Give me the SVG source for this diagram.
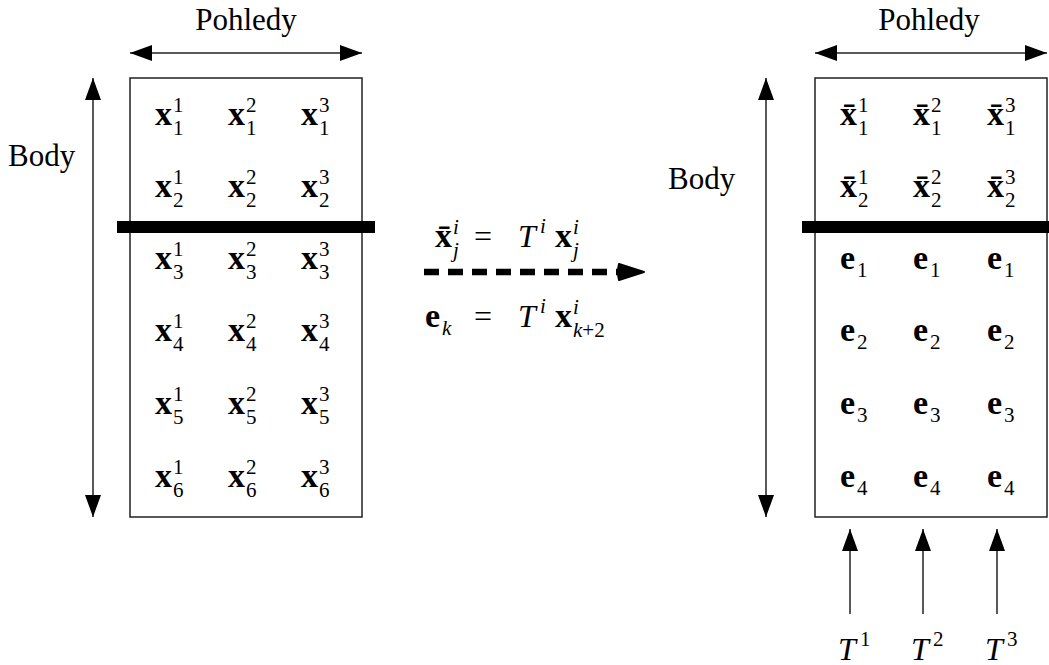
<svg xmlns="http://www.w3.org/2000/svg" width="1049" height="665" viewBox="0 0 1049 665">
<defs>
<marker id="ah" viewBox="0 0 22 16" refX="22" refY="8" markerWidth="22" markerHeight="16" markerUnits="userSpaceOnUse" orient="auto-start-reverse">
<path d="M0,0 L22,8 L0,16 Z" fill="#000"/>
</marker>
<marker id="dh" viewBox="0 0 28 18" refX="2" refY="9" markerWidth="28" markerHeight="18" markerUnits="userSpaceOnUse" orient="auto">
<path d="M2,1 Q0,9 2,17 L27,9 Z" fill="#000" stroke="#000" stroke-width="2" stroke-linejoin="round"/>
</marker>
</defs>

<g id="connectors" stroke="#222" stroke-width="1.5" fill="none">
<line x1="130" y1="53" x2="362" y2="53" marker-start="url(#ah)" marker-end="url(#ah)"/>
<line x1="93" y1="78" x2="93" y2="517" marker-start="url(#ah)" marker-end="url(#ah)"/>
<line x1="815" y1="53" x2="1047" y2="53" marker-start="url(#ah)" marker-end="url(#ah)"/>
<line x1="766" y1="78" x2="766" y2="517" marker-start="url(#ah)" marker-end="url(#ah)"/>
<line x1="424" y1="272" x2="619" y2="272" stroke="#000" stroke-width="6.5" stroke-dasharray="15 9" marker-end="url(#dh)"/>
<line x1="850" y1="614" x2="850" y2="529" marker-end="url(#ah)"/>
<line x1="923" y1="614" x2="923" y2="529" marker-end="url(#ah)"/>
<line x1="997" y1="614" x2="997" y2="529" marker-end="url(#ah)"/>
</g>

<g id="labels" font-family="Liberation Serif" font-size="31">
<text font-family="Liberation Serif" font-size="31" x="246" y="30" text-anchor="middle">Pohledy</text>
<text font-family="Liberation Serif" font-size="31" x="929" y="30" text-anchor="middle">Pohledy</text>
<text font-family="Liberation Serif" font-size="31" x="8" y="166">Body</text>
<text font-family="Liberation Serif" font-size="31" x="668" y="189">Body</text>
</g>

<g id="left-matrix" font-family="Liberation Serif">
<rect x="130" y="78" width="232" height="439" fill="none" stroke="#222" stroke-width="1.5"/>
<rect x="117" y="221" width="258" height="12" fill="#000"/>
<g id="lrow1">
<text font-family="Liberation Serif" font-size="34" font-weight="bold" x="155" y="125">x</text><text font-family="Liberation Serif" font-size="21" x="173" y="112">1</text><text font-family="Liberation Serif" font-size="21" x="173" y="135">1</text>
<text font-family="Liberation Serif" font-size="34" font-weight="bold" x="228" y="125">x</text><text font-family="Liberation Serif" font-size="21" x="246" y="112">2</text><text font-family="Liberation Serif" font-size="21" x="246" y="135">1</text>
<text font-family="Liberation Serif" font-size="34" font-weight="bold" x="301" y="125">x</text><text font-family="Liberation Serif" font-size="21" x="319" y="112">3</text><text font-family="Liberation Serif" font-size="21" x="319" y="135">1</text>
</g>
<g id="lrow2">
<text font-family="Liberation Serif" font-size="34" font-weight="bold" x="155" y="197">x</text><text font-family="Liberation Serif" font-size="21" x="173" y="184">1</text><text font-family="Liberation Serif" font-size="21" x="173" y="207">2</text>
<text font-family="Liberation Serif" font-size="34" font-weight="bold" x="228" y="197">x</text><text font-family="Liberation Serif" font-size="21" x="246" y="184">2</text><text font-family="Liberation Serif" font-size="21" x="246" y="207">2</text>
<text font-family="Liberation Serif" font-size="34" font-weight="bold" x="301" y="197">x</text><text font-family="Liberation Serif" font-size="21" x="319" y="184">3</text><text font-family="Liberation Serif" font-size="21" x="319" y="207">2</text>
</g>
<g id="lrow3">
<text font-family="Liberation Serif" font-size="34" font-weight="bold" x="155" y="269">x</text><text font-family="Liberation Serif" font-size="21" x="173" y="256">1</text><text font-family="Liberation Serif" font-size="21" x="173" y="279">3</text>
<text font-family="Liberation Serif" font-size="34" font-weight="bold" x="228" y="269">x</text><text font-family="Liberation Serif" font-size="21" x="246" y="256">2</text><text font-family="Liberation Serif" font-size="21" x="246" y="279">3</text>
<text font-family="Liberation Serif" font-size="34" font-weight="bold" x="301" y="269">x</text><text font-family="Liberation Serif" font-size="21" x="319" y="256">3</text><text font-family="Liberation Serif" font-size="21" x="319" y="279">3</text>
</g>
<g id="lrow4">
<text font-family="Liberation Serif" font-size="34" font-weight="bold" x="155" y="341">x</text><text font-family="Liberation Serif" font-size="21" x="173" y="328">1</text><text font-family="Liberation Serif" font-size="21" x="173" y="351">4</text>
<text font-family="Liberation Serif" font-size="34" font-weight="bold" x="228" y="341">x</text><text font-family="Liberation Serif" font-size="21" x="246" y="328">2</text><text font-family="Liberation Serif" font-size="21" x="246" y="351">4</text>
<text font-family="Liberation Serif" font-size="34" font-weight="bold" x="301" y="341">x</text><text font-family="Liberation Serif" font-size="21" x="319" y="328">3</text><text font-family="Liberation Serif" font-size="21" x="319" y="351">4</text>
</g>
<g id="lrow5">
<text font-family="Liberation Serif" font-size="34" font-weight="bold" x="155" y="414">x</text><text font-family="Liberation Serif" font-size="21" x="173" y="401">1</text><text font-family="Liberation Serif" font-size="21" x="173" y="424">5</text>
<text font-family="Liberation Serif" font-size="34" font-weight="bold" x="228" y="414">x</text><text font-family="Liberation Serif" font-size="21" x="246" y="401">2</text><text font-family="Liberation Serif" font-size="21" x="246" y="424">5</text>
<text font-family="Liberation Serif" font-size="34" font-weight="bold" x="301" y="414">x</text><text font-family="Liberation Serif" font-size="21" x="319" y="401">3</text><text font-family="Liberation Serif" font-size="21" x="319" y="424">5</text>
</g>
<g id="lrow6">
<text font-family="Liberation Serif" font-size="34" font-weight="bold" x="155" y="487">x</text><text font-family="Liberation Serif" font-size="21" x="173" y="474">1</text><text font-family="Liberation Serif" font-size="21" x="173" y="497">6</text>
<text font-family="Liberation Serif" font-size="34" font-weight="bold" x="228" y="487">x</text><text font-family="Liberation Serif" font-size="21" x="246" y="474">2</text><text font-family="Liberation Serif" font-size="21" x="246" y="497">6</text>
<text font-family="Liberation Serif" font-size="34" font-weight="bold" x="301" y="487">x</text><text font-family="Liberation Serif" font-size="21" x="319" y="474">3</text><text font-family="Liberation Serif" font-size="21" x="319" y="497">6</text>
</g>
</g>

<g id="transform" font-family="Liberation Serif">
<text font-family="Liberation Serif" font-size="34" font-weight="bold" x="435" y="247">x̄</text><text font-family="Liberation Serif" font-size="21" font-style="italic" x="453" y="234">i</text><text font-family="Liberation Serif" font-size="21" font-style="italic" x="453" y="257">j</text>
<text font-family="Liberation Serif" font-size="32" x="474" y="247">=</text>
<text font-family="Liberation Serif" font-size="32" font-style="italic" x="518" y="247">T</text><text font-family="Liberation Serif" font-size="21" font-style="italic" x="540" y="233">i</text>
<text font-family="Liberation Serif" font-size="34" font-weight="bold" x="555" y="247">x</text><text font-family="Liberation Serif" font-size="21" font-style="italic" x="573" y="234">i</text><text font-family="Liberation Serif" font-size="21" font-style="italic" x="573" y="257">j</text>
<text font-family="Liberation Serif" font-size="34" font-weight="bold" x="425" y="327">e</text><text font-family="Liberation Serif" font-size="21" font-style="italic" x="442" y="335">k</text>
<text font-family="Liberation Serif" font-size="32" x="474" y="327">=</text>
<text font-family="Liberation Serif" font-size="32" font-style="italic" x="518" y="327">T</text><text font-family="Liberation Serif" font-size="21" font-style="italic" x="540" y="313">i</text>
<text font-family="Liberation Serif" font-size="34" font-weight="bold" x="555" y="327">x</text><text font-family="Liberation Serif" font-size="21" font-style="italic" x="573" y="314">i</text><text font-family="Liberation Serif" font-size="21" x="573" y="337"><tspan font-style="italic">k</tspan>+2</text>
</g>

<g id="right-matrix" font-family="Liberation Serif">
<rect x="815" y="78" width="232" height="439" fill="none" stroke="#222" stroke-width="1.5"/>
<rect x="802" y="221" width="247" height="12" fill="#000"/>
<g id="rrow1">
<text font-family="Liberation Serif" font-size="34" font-weight="bold" x="840" y="125">x̄</text><text font-family="Liberation Serif" font-size="21" x="858" y="112">1</text><text font-family="Liberation Serif" font-size="21" x="858" y="135">1</text>
<text font-family="Liberation Serif" font-size="34" font-weight="bold" x="913" y="125">x̄</text><text font-family="Liberation Serif" font-size="21" x="931" y="112">2</text><text font-family="Liberation Serif" font-size="21" x="931" y="135">1</text>
<text font-family="Liberation Serif" font-size="34" font-weight="bold" x="987" y="125">x̄</text><text font-family="Liberation Serif" font-size="21" x="1005" y="112">3</text><text font-family="Liberation Serif" font-size="21" x="1005" y="135">1</text>
</g>
<g id="rrow2">
<text font-family="Liberation Serif" font-size="34" font-weight="bold" x="840" y="197">x̄</text><text font-family="Liberation Serif" font-size="21" x="858" y="184">1</text><text font-family="Liberation Serif" font-size="21" x="858" y="207">2</text>
<text font-family="Liberation Serif" font-size="34" font-weight="bold" x="913" y="197">x̄</text><text font-family="Liberation Serif" font-size="21" x="931" y="184">2</text><text font-family="Liberation Serif" font-size="21" x="931" y="207">2</text>
<text font-family="Liberation Serif" font-size="34" font-weight="bold" x="987" y="197">x̄</text><text font-family="Liberation Serif" font-size="21" x="1005" y="184">3</text><text font-family="Liberation Serif" font-size="21" x="1005" y="207">2</text>
</g>
<g id="rrow3">
<text font-family="Liberation Serif" font-size="34" font-weight="bold" x="840" y="269">e</text><text font-family="Liberation Serif" font-size="21" x="857" y="277">1</text>
<text font-family="Liberation Serif" font-size="34" font-weight="bold" x="913" y="269">e</text><text font-family="Liberation Serif" font-size="21" x="930" y="277">1</text>
<text font-family="Liberation Serif" font-size="34" font-weight="bold" x="987" y="269">e</text><text font-family="Liberation Serif" font-size="21" x="1004" y="277">1</text>
</g>
<g id="rrow4">
<text font-family="Liberation Serif" font-size="34" font-weight="bold" x="840" y="341">e</text><text font-family="Liberation Serif" font-size="21" x="857" y="349">2</text>
<text font-family="Liberation Serif" font-size="34" font-weight="bold" x="913" y="341">e</text><text font-family="Liberation Serif" font-size="21" x="930" y="349">2</text>
<text font-family="Liberation Serif" font-size="34" font-weight="bold" x="987" y="341">e</text><text font-family="Liberation Serif" font-size="21" x="1004" y="349">2</text>
</g>
<g id="rrow5">
<text font-family="Liberation Serif" font-size="34" font-weight="bold" x="840" y="414">e</text><text font-family="Liberation Serif" font-size="21" x="857" y="422">3</text>
<text font-family="Liberation Serif" font-size="34" font-weight="bold" x="913" y="414">e</text><text font-family="Liberation Serif" font-size="21" x="930" y="422">3</text>
<text font-family="Liberation Serif" font-size="34" font-weight="bold" x="987" y="414">e</text><text font-family="Liberation Serif" font-size="21" x="1004" y="422">3</text>
</g>
<g id="rrow6">
<text font-family="Liberation Serif" font-size="34" font-weight="bold" x="840" y="487">e</text><text font-family="Liberation Serif" font-size="21" x="857" y="495">4</text>
<text font-family="Liberation Serif" font-size="34" font-weight="bold" x="913" y="487">e</text><text font-family="Liberation Serif" font-size="21" x="930" y="495">4</text>
<text font-family="Liberation Serif" font-size="34" font-weight="bold" x="987" y="487">e</text><text font-family="Liberation Serif" font-size="21" x="1004" y="495">4</text>
</g>
</g>

<g id="t-labels" font-family="Liberation Serif">
<text font-family="Liberation Serif" font-size="32" font-style="italic" x="838" y="660">T</text><text font-family="Liberation Serif" font-size="21" x="860" y="646">1</text>
<text font-family="Liberation Serif" font-size="32" font-style="italic" x="911" y="660">T</text><text font-family="Liberation Serif" font-size="21" x="933" y="646">2</text>
<text font-family="Liberation Serif" font-size="32" font-style="italic" x="985" y="660">T</text><text font-family="Liberation Serif" font-size="21" x="1007" y="646">3</text>
</g>
</svg>
